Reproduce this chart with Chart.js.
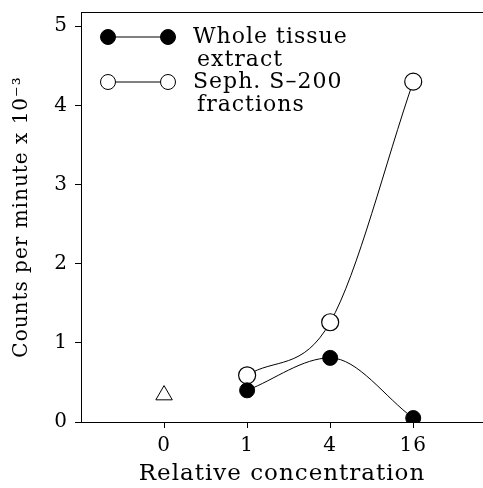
<!DOCTYPE html>
<html>
<head>
<meta charset="utf-8">
<script src="https://cdn.jsdelivr.net/npm/chart.js@4.4.0/dist/chart.umd.min.js"></script>
<style>
  html, body { margin: 0; padding: 0; background: #fff; }
  #wrap { width: 483px; height: 488px; }
</style>
</head>
<body>
<div id="wrap"><canvas id="fig"></canvas></div>
<script>
// relative concentration categories (evenly spaced on the axis)
const categories = ['0', '1', '4', '16'];
// counts per minute x 10^-3
const wholeTissue = [null, 0.40, 0.81, 0.05];
const sephFractions = [null, 0.59, 1.26, 4.30];
const control = [0.34, null, null, null];
const yTicks = [0, 1, 2, 3, 4, 5];

const serif = '"DejaVu Serif", serif';

function toPoints(arr) {
  return arr.map((v, i) => ({ x: i, y: v })).filter(p => p.y !== null);
}

// wider typewriter-like spacing for all text
const spacing = {
  id: 'spacing',
  beforeDraw(chart) { chart.ctx.letterSpacing = '1px'; }
};

// legend drawn inside the plot, top-left, plus the top frame line
const legendBox = {
  id: 'legendBox',
  afterDraw(chart) {
    const c = chart.ctx;
    const a = chart.chartArea;
    c.save();
    c.strokeStyle = '#000';
    c.lineWidth = 1;
    c.beginPath();
    c.moveTo(a.left, a.top + 0.5);
    c.lineTo(a.right, a.top + 0.5);
    c.stroke();

    const rows = [
      { fill: '#000', lines: ['Whole tissue', 'extract'], y: a.top + 25 },
      { fill: '#fff', lines: ['Seph. S\u2013200', 'fractions'], y: a.top + 70 }
    ];
    const x1 = a.left + 27, x2 = a.left + 87;
    c.font = '22px ' + serif;
    c.letterSpacing = '1px';
    c.textBaseline = 'middle';
    rows.forEach(r => {
      c.beginPath();
      c.moveTo(x1, r.y);
      c.lineTo(x2, r.y);
      c.stroke();
      [x1, x2].forEach(x => {
        c.beginPath();
        c.arc(x, r.y, 7.5, 0, Math.PI * 2);
        c.fillStyle = r.fill;
        c.fill();
        c.strokeStyle = '#000';
        c.stroke();
      });
      c.fillStyle = '#000';
      c.fillText(r.lines[0], a.left + 112, r.y);
      c.fillText(r.lines[1], a.left + 116, r.y + 23);
    });
    c.restore();
  }
};

new Chart(document.getElementById('fig'), {
  type: 'line',
  data: {
    datasets: [
      {
        label: 'Whole tissue extract',
        data: toPoints(wholeTissue),
        borderColor: '#000',
        borderWidth: 1,
        cubicInterpolationMode: 'monotone',
        pointRadius: 7.5,
        pointBackgroundColor: '#000',
        pointBorderColor: '#000',
        pointBorderWidth: 1
      },
      {
        label: 'Seph. S-200 fractions',
        data: toPoints(sephFractions),
        borderColor: '#000',
        borderWidth: 1,
        cubicInterpolationMode: 'monotone',
        pointRadius: 8.5,
        pointBackgroundColor: '#fff',
        pointBorderColor: '#000',
        pointBorderWidth: 1.2
      },
      {
        label: 'Control',
        data: toPoints(control),
        showLine: false,
        pointStyle: 'triangle',
        pointRadius: 9.5,
        pointBackgroundColor: '#fff',
        pointBorderColor: '#000',
        pointBorderWidth: 1
      }
    ]
  },
  options: {
    responsive: true,
    maintainAspectRatio: false,
    animation: false,
    layout: { autoPadding: false, padding: { top: 12, right: 0, left: 0, bottom: 0 } },
    plugins: {
      legend: { display: false },
      tooltip: { enabled: false }
    },
    scales: {
      x: {
        type: 'linear',
        min: -1,
        max: 3.84,
        afterBuildTicks: s => { s.ticks = categories.map((_, i) => ({ value: i })); },
        afterFit: s => { s.height = 66; s.paddingLeft = 0; s.paddingRight = 0; },
        ticks: {
          color: '#000',
          font: { family: serif, size: 20 },
          padding: 6,
          callback: v => categories[v]
        },
        grid: { display: true, drawOnChartArea: false, tickLength: 6, color: '#000' },
        border: { display: true, color: '#000', width: 1 },
        title: {
          display: true,
          text: 'Relative concentration',
          color: '#000',
          font: { family: serif, size: 23 },
          padding: { top: 0, bottom: 0 }
        }
      },
      y: {
        min: 0,
        max: 5.18,
        afterBuildTicks: s => { s.ticks = yTicks.map(v => ({ value: v })); },
        afterFit: s => { s.width = 81; s.paddingTop = 0; s.paddingBottom = 0; },
        ticks: {
          color: '#000',
          font: { family: serif, size: 20 },
          padding: 7
        },
        grid: { display: true, drawOnChartArea: false, tickLength: 6, color: '#000' },
        border: { display: true, color: '#000', width: 1 },
        title: {
          display: true,
          text: 'Counts per minute x 10\u207B\u00B3',
          color: '#000',
          font: { family: serif, size: 20 },
          padding: { top: 10, bottom: 0 }
        }
      }
    }
  },
  plugins: [spacing, legendBox]
});
</script>
</body>
</html>
